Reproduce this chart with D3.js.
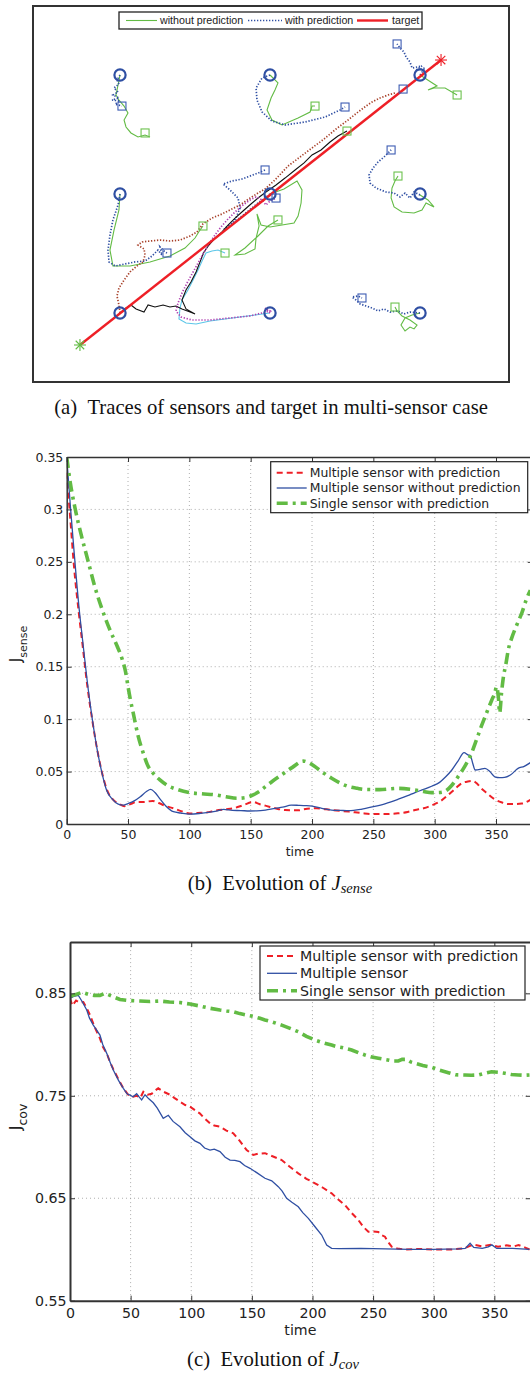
<!DOCTYPE html>
<html>
<head>
<meta charset="utf-8">
<script src="https://cdn.jsdelivr.net/npm/d3@7"></script>
<style>
body { margin: 0; background: #fff; }
svg { display: block; }
</style>
</head>
<body>
<script>
// ---------- (a) traces, field units (sensor grid at 1,2,3) ----------
var sensorStarts = [[1,3],[2,3],[3,3],[1,2],[2,2],[3,2],[1,1],[2,1],[3,1]];
var targetPath = [[0.733,0.731],[3.14,3.126]];

// end positions (squares)
var endsWith = [[1.013,2.739],[2.5,2.731],[2.847,3.261],[1.313,1.504],[1.967,2.202],[2.807,2.37],[2.613,1.126],[2.887,2.882],[2.04,1.966]];
var endsWithout = [[1.167,2.513],[2.3,2.739],[3.247,2.832],[1.553,1.731],[2.053,1.782],[2.853,2.151],[2.833,1.05],[2.513,2.529],[1.7,1.504]];

// with prediction (dotted)
var aWith = [[1,3],[0.98,2.958],[0.993,2.924],[0.96,2.891],[0.987,2.857],[0.953,2.832],[0.993,2.807],[0.947,2.79],[1,2.782],[0.967,2.756],[1.013,2.739]];
var bWith = [[2,3],[1.947,2.975],[1.907,2.891],[1.913,2.79],[1.947,2.689],[2.013,2.613],[2.1,2.58],[2.233,2.605],[2.367,2.647],[2.467,2.706],[2.5,2.731]];
var cWith = [[3,3],[3.033,3.059],[2.973,3.042],[3.013,3.076],[2.947,3.059],[2.933,3.109],[2.907,3.151],[2.893,3.193],[2.867,3.227],[2.847,3.261]];
var dWith = [[1,2],[0.987,1.908],[0.953,1.782],[0.933,1.655],[0.92,1.529],[0.927,1.429],[0.967,1.395],[1.033,1.412],[1.1,1.429],[1.167,1.437],[1.213,1.479],[1.253,1.529],[1.28,1.487],[1.267,1.555],[1.3,1.513],[1.313,1.504]];
var fWith = [[2,2],[1.92,1.924],[1.847,1.849],[1.78,1.782],[1.72,1.731],[1.693,1.706],[1.747,1.748],[1.773,1.798],[1.8,1.882],[1.787,1.966],[1.733,2.034],[1.687,2.084],[1.747,2.109],[1.813,2.126],[1.867,2.151],[1.92,2.176],[1.967,2.202]];
var gWith = [[3,1.992],[2.96,2.017],[2.933,1.966],[2.9,2.008],[2.867,1.975],[2.827,2.008],[2.773,2.017],[2.707,2.05],[2.667,2.092],[2.66,2.16],[2.687,2.218],[2.72,2.269],[2.76,2.311],[2.787,2.345],[2.807,2.37]];
var hWith = [[3,1],[2.933,1.008],[2.893,0.992],[2.853,1.017],[2.8,1.008],[2.76,1.034],[2.72,1.017],[2.68,1.042],[2.64,1.059],[2.6,1.076],[2.573,1.109],[2.547,1.134],[2.587,1.143],[2.613,1.126]];
var eWith = [[1,1],[0.993,1.067],[0.98,1.143],[0.993,1.21],[1.027,1.277],[1.067,1.345],[1.113,1.395],[1.153,1.429],[1.167,1.487],[1.16,1.538],[1.12,1.571],[1.147,1.597],[1.2,1.605],[1.267,1.613],[1.333,1.605],[1.4,1.613],[1.467,1.647],[1.513,1.681],[1.553,1.748],[1.613,1.798],[1.68,1.832],[1.733,1.866],[1.8,1.908],[1.867,1.966],[1.92,2.008],[1.967,2.042],[2.033,2.118],[2.12,2.235],[2.2,2.311],[2.28,2.387],[2.36,2.462],[2.44,2.546],[2.52,2.622],[2.587,2.689],[2.64,2.739],[2.68,2.773],[2.733,2.807],[2.787,2.832],[2.833,2.849]];
var iWith = [[2,1],[1.967,1.042],[2,1.017],[1.867,0.975],[1.733,0.958],[1.6,0.941],[1.48,0.941],[1.407,0.966],[1.373,1.017],[1.387,1.084],[1.413,1.168],[1.447,1.252],[1.48,1.328],[1.513,1.403],[1.553,1.496],[1.593,1.58],[1.633,1.655],[1.673,1.723],[1.72,1.79],[1.767,1.849],[1.82,1.908],[1.867,1.95],[1.907,1.975],[1.947,1.95],[1.973,1.908],[2,1.941],[2.04,1.966]];

// without prediction (solid)
var aWithout = [[1,3],[0.987,2.916],[0.973,2.832],[0.993,2.79],[1.027,2.739],[1.053,2.681],[1.027,2.622],[1.04,2.563],[1.073,2.513],[1.12,2.479],[1.167,2.496],[1.2,2.479]];
var bWithout = [[2,3],[2.053,2.933],[2.033,2.874],[2.007,2.807],[1.98,2.706],[2.013,2.622],[2.08,2.58],[2.187,2.639],[2.267,2.689],[2.28,2.739],[2.3,2.739]];
var cWithout = [[3,3],[3.113,2.908],[3.053,2.874],[3.093,2.891],[3.167,2.891],[3.247,2.832]];
var dWithout = [[1,2],[0.993,1.866],[0.96,1.697],[0.933,1.529],[0.953,1.395],[1.067,1.395],[1.2,1.429],[1.333,1.479],[1.433,1.546],[1.5,1.63],[1.533,1.697],[1.553,1.731]];
var fWithout = [[2,2],[2.093,2.042],[2.18,2.109],[2.213,2.034],[2.207,1.924],[2.187,1.815],[2.16,1.756],[2.08,1.739],[2,1.723],[1.94,1.739],[1.913,1.832],[1.927,1.731],[1.907,1.63],[1.9,1.538],[1.833,1.496],[1.767,1.487],[1.833,1.546],[1.92,1.647],[1.987,1.731],[2.053,1.782]];
var gWithout = [[3,1.992],[3.053,1.95],[3.093,1.891],[3.04,1.924],[3.013,1.866],[2.96,1.84],[2.88,1.849],[2.827,1.891],[2.807,1.966],[2.813,2.05],[2.833,2.109],[2.853,2.151]];
var hWithout = [[3,1],[2.947,0.983],[2.9,0.958],[2.873,0.899],[2.9,0.849],[2.933,0.882],[2.96,0.866],[2.98,0.899],[2.933,0.941],[2.88,0.975],[2.847,1.017],[2.833,1.05]];
var eWithout = [[1,1],[1.04,1.042],[1.073,1.067],[1.107,1.034],[1.16,1.008],[1.187,1.067],[1.233,1.05],[1.287,1.067],[1.333,1.05],[1.373,1.059],[1.413,1.034],[1.467,1.008],[1.5,0.992],[1.44,1.034],[1.413,1.109],[1.44,1.193],[1.473,1.261],[1.507,1.345],[1.533,1.429],[1.56,1.513],[1.593,1.571],[1.633,1.63],[1.68,1.681],[1.72,1.739],[1.767,1.798],[1.82,1.857],[1.873,1.916],[1.92,1.966],[1.973,2.017],[2.04,2.076],[2.1,2.134],[2.167,2.202],[2.227,2.261],[2.28,2.328],[2.34,2.37],[2.4,2.437],[2.453,2.487],[2.513,2.529]];
var iWithout = [[2,1],[1.9,0.983],[1.8,0.966],[1.7,0.95],[1.6,0.933],[1.507,0.908],[1.44,0.916],[1.393,0.95],[1.4,1.042],[1.413,1.109],[1.453,1.193],[1.487,1.277],[1.52,1.361],[1.547,1.437],[1.573,1.504],[1.613,1.521],[1.653,1.529],[1.7,1.504]];

// ---------- (b) J_sense over time ----------
var timeTicks = [0, 50, 100, 150, 200, 250, 300, 350];
var senseTicks = [0, 0.05, 0.1, 0.15, 0.2, 0.25, 0.3, 0.35];
var senseMultiPred = [[0,0.335],[3,0.29],[6,0.245],[10,0.2],[13,0.17],[17,0.13],[21,0.098],[25,0.07],[29,0.048],[33,0.032],[38,0.023],[43,0.019],[47,0.017],[52,0.019],[57,0.021],[63,0.021],[70,0.022],[75,0.02],[81,0.017],[87,0.015],[94,0.012],[100,0.010],[107,0.0105],[114,0.011],[122,0.013],[130,0.014],[136,0.015],[144,0.018],[152,0.021],[157,0.019],[162,0.0175],[170,0.015],[178,0.0133],[188,0.013],[196,0.0145],[204,0.015],[216,0.0133],[230,0.0118],[240,0.0105],[249,0.0095],[260,0.0095],[270,0.0102],[278,0.0115],[284,0.0133],[291,0.015],[298,0.018],[305,0.022],[311,0.0277],[317,0.034],[322,0.0388],[327,0.0405],[331,0.041],[335,0.038],[338,0.034],[343,0.029],[349,0.0235],[355,0.0205],[360,0.019],[366,0.019],[371,0.0195],[378,0.023]];
var senseMulti = [[0,0.35],[3,0.303],[6,0.26],[10,0.207],[13,0.175],[17.6,0.128],[21,0.099],[25,0.07],[28.5,0.05],[32.6,0.032],[37,0.024],[42,0.019],[46,0.018],[50,0.0195],[55,0.022],[60,0.026],[65,0.031],[68.5,0.033],[72,0.03],[76,0.024],[81,0.017],[87,0.0117],[93,0.0105],[100,0.0095],[108,0.010],[115,0.011],[122,0.0122],[128,0.014],[135,0.013],[142,0.0128],[149,0.0124],[155,0.0125],[162,0.0133],[170,0.015],[176,0.016],[183,0.018],[189,0.0178],[195,0.0175],[200,0.017],[208,0.015],[216,0.0133],[223,0.013],[230,0.0127],[240,0.014],[250,0.0165],[260,0.0195],[270,0.0235],[278,0.027],[284,0.030],[291,0.033],[297.5,0.036],[304,0.0397],[309,0.045],[314,0.0515],[319,0.06],[324,0.068],[327,0.066],[329,0.0655],[331,0.058],[333,0.0515],[337,0.052],[341,0.053],[345,0.05],[349,0.045],[353,0.0442],[357,0.0445],[362,0.047],[368,0.053],[373,0.055],[378,0.0585]];
var senseSinglePred = [[0,0.35],[3,0.325],[7,0.30],[12,0.275],[17.6,0.25],[23,0.226],[30,0.201],[36,0.183],[41,0.17],[45,0.158],[48,0.145],[50.3,0.129],[52,0.118],[54.3,0.1055],[58,0.085],[62.5,0.0674],[66,0.056],[70.6,0.0483],[76,0.042],[81.5,0.0372],[90,0.033],[100,0.030],[110,0.0288],[122,0.0277],[130,0.026],[138.6,0.0245],[145,0.025],[152,0.0277],[157,0.031],[162,0.0356],[168,0.041],[175,0.0467],[184,0.054],[193,0.060],[198,0.058],[202,0.055],[209,0.049],[216,0.0436],[223,0.039],[230,0.0356],[237,0.034],[243,0.033],[255,0.0328],[270,0.034],[284,0.0324],[291,0.031],[297.5,0.0299],[303,0.030],[308,0.031],[314,0.037],[319,0.045],[325,0.056],[330,0.0674],[334,0.08],[338,0.093],[342,0.105],[346.5,0.118],[349,0.125],[350.5,0.131],[352,0.12],[353,0.106],[354.5,0.125],[356,0.14],[358,0.152],[360,0.166],[363,0.178],[367,0.19],[371,0.201],[375,0.215],[378,0.223]];

// ---------- (c) J_cov over time ----------
var covTicks = [0.55, 0.65, 0.75, 0.85];
var covMultiPred = [[0,0.845],[2,0.838],[5,0.843],[8,0.841],[11,0.8415],[14,0.835],[16.5,0.8288],[20,0.818],[24.7,0.806],[27,0.798],[30.3,0.7914],[33,0.783],[35.7,0.776],[40,0.766],[44,0.7573],[48,0.751],[52,0.749],[55,0.750],[58,0.748],[60.5,0.754],[64,0.751],[67.4,0.752],[70,0.755],[72.8,0.7573],[77,0.754],[82.5,0.751],[86,0.748],[90.7,0.7442],[95,0.741],[99,0.7393],[103,0.736],[107,0.7329],[111,0.728],[115.5,0.7231],[119,0.721],[123.7,0.7198],[129,0.716],[134.7,0.7134],[140,0.706],[145.7,0.697],[151.2,0.6922],[155,0.6935],[160.8,0.694],[167,0.691],[174.6,0.6873],[181,0.681],[188.3,0.6743],[195,0.669],[202.1,0.6646],[209,0.66],[215.8,0.6548],[221,0.649],[226.8,0.6434],[232,0.636],[237.8,0.6288],[242,0.622],[246.1,0.6173],[250,0.6175],[254.3,0.617],[257,0.614],[259.8,0.6125],[262,0.608],[265.3,0.6027],[270,0.601],[276,0.600],[290,0.6005],[300,0.6],[315,0.6],[325,0.601],[330,0.6035],[334,0.6044],[340,0.603],[347,0.6045],[353,0.6027],[360,0.604],[366,0.603],[370,0.6044],[375,0.602],[379,0.600]];
var covMulti = [[0,0.845],[3,0.847],[6.9,0.848],[10,0.842],[13.8,0.8337],[16,0.826],[19.2,0.819],[22,0.814],[24.7,0.8093],[27,0.80],[30.3,0.7914],[33,0.783],[35.7,0.7751],[40,0.765],[44,0.7573],[47,0.752],[49.5,0.7507],[52,0.749],[55,0.752],[57,0.749],[59.1,0.746],[61.9,0.751],[65,0.747],[68.7,0.7432],[72,0.738],[76.9,0.728],[81.1,0.731],[85,0.725],[90.7,0.7198],[95,0.714],[99,0.710],[103,0.706],[107.2,0.7036],[111,0.699],[115.5,0.697],[119,0.698],[123.7,0.6955],[128,0.69],[132,0.6873],[136,0.687],[140.2,0.6857],[144,0.682],[148.5,0.6792],[154,0.675],[160.8,0.6695],[166.4,0.667],[171.8,0.6613],[175,0.657],[178.7,0.650],[183,0.646],[188.3,0.6417],[192,0.636],[196.6,0.6304],[202.1,0.6222],[207.6,0.6141],[211.7,0.6044],[215.8,0.6011],[222,0.6008],[240,0.601],[260,0.6005],[280,0.600],[300,0.600],[320,0.6005],[326,0.601],[330,0.606],[333,0.602],[340,0.601],[345,0.6025],[348,0.6045],[352,0.601],[365,0.601],[379,0.600]];
var covSinglePred = [[0,0.847],[5,0.849],[10,0.851],[15,0.849],[20,0.848],[24.7,0.848],[28.6,0.85],[33,0.848],[37,0.846],[41.2,0.844],[48,0.843],[57.7,0.8425],[66,0.842],[74.2,0.8425],[82,0.8415],[90.7,0.841],[99,0.8395],[107.2,0.8376],[115,0.8355],[123.7,0.8337],[129,0.8328],[134.7,0.832],[140,0.8302],[145.7,0.8288],[151,0.8275],[156.7,0.8256],[160.8,0.824],[167,0.822],[174.6,0.819],[181,0.816],[188.3,0.8125],[195,0.808],[202.1,0.8044],[208,0.802],[215.8,0.7995],[220,0.798],[224.1,0.7972],[228,0.796],[232.3,0.7947],[238,0.792],[243.3,0.7898],[248,0.788],[254.3,0.7866],[262,0.785],[266,0.784],[270.8,0.784],[274,0.7855],[277.7,0.7856],[281,0.783],[284.6,0.7817],[291,0.7795],[298.4,0.7778],[305,0.775],[312.1,0.7725],[318,0.7705],[325.8,0.7703],[331,0.770],[336.8,0.7703],[342,0.772],[347.8,0.7735],[353,0.773],[358.8,0.772],[364,0.7708],[369.8,0.7703],[375,0.770],[379,0.7703]];

// ---------- drawing ----------
var W = 530, H = 1375;
var svg = d3.select("body").append("svg").attr("width", W).attr("height", H);
svg.append("rect").attr("width", W).attr("height", H).attr("fill", "#fff");

var BLUE = "#2f4fa3", GREEN = "#62bb44", RED = "#ee1f26";

// ===== (a) =====
var xa = d3.scaleLinear().domain([0.42, 3.593]).range([33, 509]);
var ya = d3.scaleLinear().domain([0.42, 3.58]).range([382, 6]);
var lineA = d3.line().x(function (d) { return xa(d[0]); }).y(function (d) { return ya(d[1]); });
var ga = svg.append("g");

var traceList = [
    { data: aWithout, color: GREEN, w: 1.1 },
    { data: bWithout, color: GREEN, w: 1.1 },
    { data: cWithout, color: GREEN, w: 1.1 },
    { data: dWithout, color: GREEN, w: 1.1 },
    { data: fWithout, color: GREEN, w: 1.1 },
    { data: gWithout, color: GREEN, w: 1.1 },
    { data: hWithout, color: GREEN, w: 1.1 },
    { data: aWith, color: BLUE, w: 1.7, dash: "1.3,1.7" },
    { data: bWith, color: BLUE, w: 1.7, dash: "1.3,1.7" },
    { data: cWith, color: BLUE, w: 1.7, dash: "1.3,1.7" },
    { data: dWith, color: BLUE, w: 1.7, dash: "1.3,1.7" },
    { data: fWith, color: BLUE, w: 1.7, dash: "1.3,1.7" },
    { data: gWith, color: BLUE, w: 1.7, dash: "1.3,1.7" },
    { data: hWith, color: BLUE, w: 1.7, dash: "1.3,1.7" },
    { data: eWith, color: "#a8412a", w: 1.7, dash: "1.3,1.7" },
    { data: iWithout, color: "#5cc6e8", w: 1.1 },
    { data: eWithout, color: "#111", w: 1.1 },
    { data: iWith, color: "#b040b0", w: 1.7, dash: "1.3,1.7" }
];

ga.selectAll("path.trace").data(traceList).enter().append("path")
    .attr("class", "trace")
    .attr("d", function (d) { return lineA(d.data); })
    .attr("fill", "none")
    .attr("stroke", function (d) { return d.color; })
    .attr("stroke-width", function (d) { return d.w; })
    .attr("stroke-dasharray", function (d) { return d.dash || null; });

// target
ga.append("path").attr("d", lineA(targetPath)).attr("stroke", RED).attr("stroke-width", 2.4).attr("fill", "none");

// star markers at target start/end
function star(p, color) {
    var cx = xa(p[0]), cy = ya(p[1]), r = 6;
    [0, 45, 90, 135].forEach(function (a) {
        var dx = r * Math.cos(a * Math.PI / 180), dy = r * Math.sin(a * Math.PI / 180);
        ga.append("line").attr("x1", cx - dx).attr("y1", cy - dy).attr("x2", cx + dx).attr("y2", cy + dy)
            .attr("stroke", color).attr("stroke-width", 1.1);
    });
}
star(targetPath[0], GREEN);
star(targetPath[1], RED);

ga.selectAll("circle.start").data(sensorStarts).enter().append("circle")
    .attr("cx", function (d) { return xa(d[0]); })
    .attr("cy", function (d) { return ya(d[1]); })
    .attr("r", 5.6).attr("fill", "none").attr("stroke", BLUE).attr("stroke-width", 2.2);

function squares(data, color) {
    ga.selectAll(null).data(data).enter().append("rect")
        .attr("x", function (d) { return xa(d[0]) - 4; })
        .attr("y", function (d) { return ya(d[1]) - 4; })
        .attr("width", 8).attr("height", 8)
        .attr("fill", "none").attr("stroke", color).attr("stroke-width", 1.1);
}
squares(endsWith, "#3d5cb3");
squares(endsWithout, "#6cc24e");

ga.append("rect").attr("x", 33).attr("y", 6).attr("width", 476).attr("height", 376)
    .attr("fill", "none").attr("stroke", "#333").attr("stroke-width", 2);

// legend (a)
var la = svg.append("g").style("font-family", "'Liberation Sans', Arial, sans-serif").style("font-size", "10.7px");
la.append("rect").attr("x", 119).attr("y", 12).attr("width", 303).attr("height", 17)
    .attr("fill", "#fff").attr("stroke", "#222").attr("stroke-width", 1.3);
la.append("line").attr("x1", 126).attr("x2", 157).attr("y1", 20.5).attr("y2", 20.5).attr("stroke", GREEN).attr("stroke-width", 1.1);
la.append("text").attr("x", 160).attr("y", 24.3).attr("fill", "#222").text("without prediction");
la.append("line").attr("x1", 248).attr("x2", 282).attr("y1", 20.5).attr("y2", 20.5).attr("stroke", BLUE).attr("stroke-width", 1.7).attr("stroke-dasharray", "1.3,1.7");
la.append("text").attr("x", 285).attr("y", 24.3).attr("fill", "#222").text("with prediction");
la.append("line").attr("x1", 357).attr("x2", 388).attr("y1", 20.5).attr("y2", 20.5).attr("stroke", RED).attr("stroke-width", 2.4);
la.append("text").attr("x", 392).attr("y", 24.3).attr("fill", "#222").text("target");

// ===== (b) and (c) =====
function drawPanel(p) {
    var x = d3.scaleLinear().domain([0, 380]).range([p.left, p.right]);
    var y = d3.scaleLinear().domain(p.yDomain).range([p.bottom, p.top]);
    var g = svg.append("g").style("font-family", "'DejaVu Sans', sans-serif");

    svg.append("clipPath").attr("id", p.id).append("rect")
        .attr("x", p.left).attr("y", p.top).attr("width", p.right - p.left).attr("height", p.bottom - p.top);

    // dotted grid
    g.selectAll(null).data(timeTicks.filter(function (t) { return t > 0; })).enter().append("line")
        .attr("x1", function (d) { return x(d); }).attr("x2", function (d) { return x(d); })
        .attr("y1", p.top).attr("y2", p.bottom)
        .attr("stroke", "#999").attr("stroke-width", 0.8).attr("stroke-dasharray", "1,3");
    g.selectAll(null).data(p.yTicks.filter(function (t) { return t > p.yDomain[0] && t < p.yDomain[1]; })).enter().append("line")
        .attr("x1", p.left).attr("x2", p.right)
        .attr("y1", function (d) { return y(d); }).attr("y2", function (d) { return y(d); })
        .attr("stroke", "#999").attr("stroke-width", 0.8).attr("stroke-dasharray", "1,3");

    var line = d3.line().x(function (d) { return x(d[0]); }).y(function (d) { return y(d[1]); }).curve(p.curve);
    p.series.forEach(function (s) {
        g.append("path").datum(s.data)
            .attr("clip-path", "url(#" + p.id + ")")
            .attr("d", line).attr("fill", "none")
            .attr("stroke", s.color).attr("stroke-width", s.w)
            .attr("stroke-dasharray", s.dash || null);
    });

    function styleAxis(sel, showText) {
        sel.select(".domain").attr("stroke", "#333").attr("stroke-width", p.axisW);
        sel.selectAll(".tick line").attr("stroke", "#333").attr("stroke-width", 1);
        sel.selectAll(".tick text").attr("fill", "#222").style("font-size", p.font + "px")
            .style("font-family", "'DejaVu Sans', sans-serif");
        if (!showText) sel.selectAll(".tick text").remove();
        sel.attr("font-family", null).attr("font-size", null);
    }
    var fmt = function (d) { return String(+d.toFixed(2)); };
    g.append("g").attr("transform", "translate(0," + p.bottom + ")")
        .call(d3.axisBottom(x).tickValues(timeTicks).tickFormat(fmt).tickSizeInner(-5).tickSizeOuter(0).tickPadding(p.xPad))
        .call(styleAxis, true);
    g.append("g").attr("transform", "translate(0," + p.top + ")")
        .call(d3.axisTop(x).tickValues(timeTicks).tickSizeInner(-5).tickSizeOuter(0))
        .call(styleAxis, false);
    g.append("g").attr("transform", "translate(" + p.left + ",0)")
        .call(d3.axisLeft(y).tickValues(p.yTicks).tickFormat(fmt).tickSizeInner(-5).tickSizeOuter(0).tickPadding(3.4))
        .call(styleAxis, true);
    g.append("g").attr("transform", "translate(" + p.right + ",0)")
        .call(d3.axisRight(y).tickValues(p.yTicks).tickSizeInner(-5).tickSizeOuter(0))
        .call(styleAxis, false);

    // x label
    g.append("text").attr("x", (p.left + p.right) / 2).attr("y", p.timeY)
        .attr("text-anchor", "middle").attr("fill", "#222").style("font-size", p.font + "px").text("time");

    // y label
    var yl = g.append("text").attr("transform", "translate(" + p.ylabX + "," + p.ylabY + ") rotate(-90)")
        .attr("text-anchor", "middle").attr("fill", "#222");
    yl.append("tspan").style("font-size", p.jSize + "px").text("J");
    yl.append("tspan").attr("dy", p.subDy).style("font-size", p.subSize + "px").text(p.sub);

    // legend
    var lg = g.append("g");
    lg.append("rect").attr("x", p.leg.x).attr("y", p.leg.y).attr("width", p.leg.w).attr("height", p.leg.h)
        .attr("fill", "#fff").attr("stroke", "#222").attr("stroke-width", 1.2);
    p.series.forEach(function (s, i) {
        var ry = p.leg.row0 + i * p.leg.step;
        lg.append("line").attr("x1", p.leg.x + p.leg.pad).attr("x2", p.leg.x + p.leg.pad + 30)
            .attr("y1", ry).attr("y2", ry)
            .attr("stroke", s.color).attr("stroke-width", s.w).attr("stroke-dasharray", s.dash || null);
        lg.append("text").attr("x", p.leg.x + p.leg.pad + 33).attr("y", ry + p.leg.font * 0.36)
            .attr("fill", "#222").style("font-size", p.leg.font + "px").text(s.label);
    });
}

drawPanel({
    id: "clipB", left: 66.7, right: 532.8, top: 457, bottom: 824,
    yDomain: [0, 0.35], yTicks: senseTicks, font: 12.5, xPad: 6.6, axisW: 1.5,
    curve: d3.curveMonotoneX, timeY: 855.5,
    ylabX: 21, ylabY: 644, jSize: 15, subSize: 11, subDy: 6, sub: "sense",
    leg: { x: 270.7, y: 461.7, w: 257, h: 51, pad: 6, row0: 472.7, step: 15.3, font: 12.4 },
    series: [
        { data: senseMultiPred, color: RED, w: 2, dash: "6,4", label: "Multiple sensor with prediction" },
        { data: senseMulti, color: BLUE, w: 1.3, label: "Multiple sensor without prediction" },
        { data: senseSinglePred, color: GREEN, w: 3.6, dash: "11,5,3,5", label: "Single sensor with prediction" }
    ]
});

drawPanel({
    id: "clipC", left: 70, right: 530.7, top: 942.1, bottom: 1300.7,
    yDomain: [0.55, 0.9], yTicks: covTicks, font: 14.2, xPad: 7.4, axisW: 2,
    curve: d3.curveLinear, timeY: 1335,
    ylabX: 21, ylabY: 1117, jSize: 16, subSize: 12.5, subDy: 6, sub: "cov",
    leg: { x: 260, y: 946, w: 265, h: 54, pad: 7, row0: 955.9, step: 17.4, font: 14.2 },
    series: [
        { data: covMultiPred, color: RED, w: 2, dash: "6,4", label: "Multiple sensor with prediction" },
        { data: covMulti, color: BLUE, w: 1.3, label: "Multiple sensor" },
        { data: covSinglePred, color: GREEN, w: 3.6, dash: "11,5,3,5", label: "Single sensor with prediction" }
    ]
});

// captions
var cap = svg.append("g").style("font-family", "'Liberation Serif', 'Times New Roman', serif").style("font-size", "20.7px").attr("fill", "#111");
cap.append("text").attr("x", 271).attr("y", 414).attr("text-anchor", "middle")
    .text("(a)\u2002Traces of sensors and target in multi-sensor case");
var cb = cap.append("text").attr("x", 280).attr("y", 890).attr("text-anchor", "middle");
cb.append("tspan").text("(b)\u2002Evolution of ");
cb.append("tspan").style("font-style", "italic").text("J");
cb.append("tspan").attr("dy", 3).style("font-style", "italic").style("font-size", "14.5px").text("sense");
var cc = cap.append("text").attr("x", 273).attr("y", 1366).attr("text-anchor", "middle");
cc.append("tspan").text("(c)\u2002Evolution of ");
cc.append("tspan").style("font-style", "italic").text("J");
cc.append("tspan").attr("dy", 3).style("font-style", "italic").style("font-size", "14.5px").text("cov");
</script>
</body>
</html>
